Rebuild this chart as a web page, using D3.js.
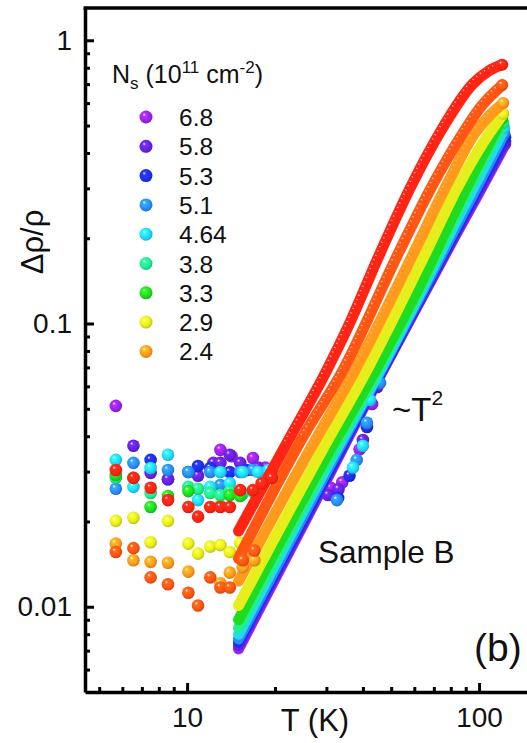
<!DOCTYPE html>
<html>
<head>
<meta charset="utf-8">
<script src="https://cdnjs.cloudflare.com/ajax/libs/d3/7.8.5/d3.min.js"></script>
<style>
body { margin: 0; background: #fff; }
svg { display: block; font-family: "Liberation Sans", Arial, sans-serif; }
</style>
</head>
<body>
<script>
// carrier densities, 1e11 cm^-2 (last two curves have no legend entry)
const labels = ["6.8", "5.8", "5.3", "5.1", "4.64", "3.8", "3.3", "2.9", "2.4", "", ""];
const colors = ["#9b22f0", "#6422e4", "#1e2ef0", "#2a8cf6", "#22d8fb", "#22ee8c",
                "#20dc20", "#e6ee1c", "#ff9a1c", "#ff5614", "#ff2414"];

// sparse low-T points [T (K), drho/rho]
const lowT = [
  [[5.7,0.0512],[8.6,0.0282],[13.0,0.0358],[14.2,0.034],[16.8,0.0335],[18.5,0.031],[31,0.0263],[34,0.0275],[39,0.036],[43,0.052]],
  [[6.55,0.037],[7.5,0.0297],[8.6,0.0282],[10.9,0.029],[12.3,0.0322],[13.0,0.0322],[14.0,0.0344],[15.2,0.0322],[17.5,0.031],[30.4,0.0248],[33,0.026],[40,0.0388],[44.8,0.0597]],
  [[7.5,0.033],[10.1,0.0299],[10.9,0.0314],[12.0,0.0309],[14.0,0.0299],[16.0,0.0304],[19.5,0.0299],[32.9,0.0242],[36,0.029],[41.3,0.0431]],
  [[5.7,0.0261],[6.55,0.0322],[8.6,0.0304],[10.1,0.0299],[12.0,0.0299],[13.0,0.0269],[15.2,0.0299],[16.8,0.0304],[18.5,0.0299],[32.6,0.0238],[38.1,0.033],[41.3,0.0446],[45.8,0.0617]],
  [[5.7,0.033],[6.55,0.0265],[7.5,0.0309],[8.6,0.0344],[10.9,0.0238],[12.0,0.0265],[13.0,0.0299],[14.0,0.0273],[15.5,0.0299],[17.5,0.0299],[19,0.0304],[37,0.031],[40,0.037],[42.3,0.0537]],
  [[5.7,0.0285],[7.5,0.0252],[10.1,0.0265],[10.9,0.0261],[12.0,0.0252],[13.0,0.0248],[14.0,0.0256],[15.5,0.025],[17,0.0252]],
  [[5.7,0.0292],[6.55,0.0285],[7.5,0.0225],[8.6,0.0246],[10.1,0.0256],[13.0,0.0227],[14.0,0.0248],[15.2,0.0246]],
  [[5.7,0.0201],[6.55,0.0206],[7.5,0.0169],[8.6,0.0201],[10.1,0.0167],[10.9,0.0154],[12.0,0.0163],[13.0,0.0165],[14.0,0.0156],[15.2,0.0168],[16.5,0.0163]],
  [[5.7,0.0167],[6.55,0.0146],[7.5,0.0144],[8.6,0.0143],[10.1,0.0133],[13.0,0.0121],[14.0,0.0132],[15.5,0.0138],[17,0.0146]],
  [[5.7,0.0156],[6.55,0.0161],[7.5,0.0127],[8.6,0.012],[10.1,0.0112],[10.9,0.0101],[12.0,0.0127],[13.0,0.0117],[14.0,0.0117],[15.5,0.0146],[17,0.0158]],
  [[5.7,0.0304],[6.55,0.0285],[7.5,0.0263],[8.6,0.0238],[10.1,0.0225],[10.9,0.0208],[12.0,0.0225],[13.0,0.0225],[14.0,0.0225],[15.2,0.0258],[16.8,0.0258],[18,0.0273],[19.5,0.0285]]
];

// dense high-T data, drawn as a thick band [T (K), drho/rho]
const dense = [
  [[15,0.0071],[30,0.028],[46,0.066],[63,0.121],[82,0.20],[100,0.29],[123,0.43]],
  [[15,0.0073],[30,0.0285],[46,0.0665],[63,0.122],[82,0.203],[100,0.297],[123,0.44]],
  [[15,0.0075],[30,0.029],[46,0.067],[63,0.124],[82,0.207],[100,0.305],[123,0.455]],
  [[15,0.0077],[30,0.030],[46,0.068],[63,0.126],[82,0.213],[100,0.315],[122,0.47]],
  [[15,0.0080],[30,0.031],[46,0.069],[63,0.129],[82,0.222],[100,0.33],[122,0.49]],
  [[15,0.0084],[30,0.032],[46,0.071],[63,0.133],[82,0.232],[100,0.35],[121,0.51]],
  [[15,0.0090],[30,0.034],[46,0.074],[63,0.138],[82,0.245],[100,0.37],[120,0.53]],
  [[15,0.0101],[30,0.038],[41.3,0.0685],[66.4,0.182],[84,0.30],[104,0.44],[121,0.55]],
  [[15,0.0123],[26,0.035],[37.6,0.0685],[60.4,0.182],[77.7,0.31],[96.8,0.47],[110,0.55],[121,0.60]],
  [[15,0.0148],[25,0.040],[34.2,0.0685],[53.6,0.182],[69.5,0.31],[88,0.47],[101,0.58],[120,0.695]],
  [[15,0.0185],[22,0.038],[30,0.068],[36,0.10],[45,0.17],[58,0.30],[75,0.49],[95,0.70],[108,0.78],[120,0.82]]
];

const xMajor = [10, 100];
const xMinor = [5, 6, 7, 8, 9, 20, 30, 40, 50, 60, 70, 80, 90];
const yMajor = [0.01, 0.1, 1];
const yMinor = [0.006, 0.007, 0.008, 0.009, 0.02, 0.03, 0.04, 0.05, 0.06, 0.07, 0.08, 0.09,
                0.2, 0.3, 0.4, 0.5, 0.6, 0.7, 0.8, 0.9];

const W = 527, H = 743;
const svg = d3.select("body").append("svg").attr("width", W).attr("height", H);

const x = d3.scaleLog().domain([4.47, 150]).range([85, 530.5]);
const y = d3.scaleLog().domain([0.005, 1.3]).range([692, 8]);

// sphere shading
const defs = svg.append("defs");
colors.forEach((c, i) => {
  const g = defs.append("radialGradient").attr("id", "ball" + i)
    .attr("cx", "0.45").attr("cy", "0.45").attr("r", "0.6")
    .attr("fx", "0.35").attr("fy", "0.3");
  g.append("stop").attr("offset", "0%").attr("stop-color", "#fff");
  g.append("stop").attr("offset", "22%").attr("stop-color", d3.color(c).brighter(0.6));
  g.append("stop").attr("offset", "65%").attr("stop-color", c);
  g.append("stop").attr("offset", "100%").attr("stop-color", d3.color(c).darker(0.7));
});

const line = d3.line().x(d => x(d[0])).y(d => y(d[1])).curve(d3.curveMonotoneX);

const plot = svg.append("g");
dense.forEach((pts, i) => {
  const g = plot.append("g");
  g.append("path").attr("d", line(pts))
    .attr("fill", "none").attr("stroke", colors[i])
    .attr("stroke-width", 11).attr("stroke-linecap", "round");
  if (i >= 8) {
    g.append("path").attr("d", line(pts.filter(d => d[0] >= 20)))
      .attr("fill", "none").attr("stroke", "#fff")
      .attr("stroke-width", 1.8).attr("stroke-dasharray", "1.2 3.6")
      .attr("opacity", i === 8 ? 0.3 : 0.6)
      .attr("transform", "translate(-2.5,-1.5)");
  }
  const last = pts[pts.length - 1];
  g.append("circle").attr("cx", x(last[0])).attr("cy", y(last[1])).attr("r", 6)
    .attr("fill", "url(#ball" + i + ")");
  g.selectAll("circle.pt").data(lowT[i]).join("circle").attr("class", "pt")
    .attr("cx", d => x(d[0])).attr("cy", d => y(d[1])).attr("r", 6.3)
    .attr("fill", "url(#ball" + i + ")");
});

// axes, ticks inside
const fs = 28;
svg.append("g").attr("transform", "translate(0,692)")
  .call(d3.axisBottom(x).tickValues(xMajor).tickSize(-9).tickSizeOuter(0)
    .tickPadding(15).tickFormat(d3.format("d")));
svg.append("g").attr("transform", "translate(0,692)")
  .call(d3.axisBottom(x).tickValues(xMinor).tickSize(-5).tickSizeOuter(0).tickFormat(""))
  .select(".domain").remove();
svg.append("g").attr("transform", "translate(85,0)")
  .call(d3.axisLeft(y).tickValues(yMajor).tickSize(-9).tickSizeOuter(0)
    .tickPadding(13).tickFormat(d => d === 1 ? "1" : d3.format("")(d)));
svg.append("g").attr("transform", "translate(85,0)")
  .call(d3.axisLeft(y).tickValues(yMinor).tickSize(-5).tickSizeOuter(0).tickFormat(""))
  .select(".domain").remove();
svg.selectAll(".tick line").attr("stroke", "#000").attr("stroke-width", 3);
svg.selectAll(".domain").attr("stroke", "#000").attr("stroke-width", 3.5);
svg.selectAll(".tick text").attr("font-size", fs).attr("fill", "#111")
  .attr("font-family", "Liberation Sans, Arial, sans-serif");
svg.append("line").attr("x1", 83.5).attr("x2", W).attr("y1", 8).attr("y2", 8)
  .attr("stroke", "#000").attr("stroke-width", 3.5);

// axis titles
svg.append("text").attr("x", 315).attr("y", 731).attr("text-anchor", "middle")
  .attr("font-size", 31).attr("fill", "#111").text("T (K)");
svg.append("text").attr("transform", "translate(43,242) rotate(-90)")
  .attr("text-anchor", "middle").attr("font-size", 31).attr("fill", "#111").text("Δρ/ρ");

// legend
const lg = svg.append("g");
const lt = lg.append("text").attr("x", 112).attr("y", 83).attr("font-size", 25).attr("fill", "#111");
lt.append("tspan").text("N");
lt.append("tspan").attr("font-size", 17).attr("dy", 6).text("s");
lt.append("tspan").attr("dy", -6).text(" (10");
lt.append("tspan").attr("font-size", 17).attr("dy", -10).text("11");
lt.append("tspan").attr("dy", 10).text(" cm");
lt.append("tspan").attr("font-size", 17).attr("dy", -10).text("-2");
lt.append("tspan").attr("dy", 10).text(")");
labels.forEach((l, i) => {
  if (!l) return;
  const yy = 117 + i * 29.3;
  lg.append("circle").attr("cx", 146).attr("cy", yy).attr("r", 6.5).attr("fill", "url(#ball" + i + ")");
  lg.append("text").attr("x", 179).attr("y", yy + 9).attr("font-size", 24.5).attr("fill", "#111").text(l);
});

// annotations
const t2 = svg.append("text").attr("x", 392).attr("y", 421).attr("font-size", 33).attr("fill", "#111");
t2.append("tspan").text("~T");
t2.append("tspan").attr("font-size", 21).attr("dy", -16).text("2");
svg.append("text").attr("x", 318).attr("y", 563).attr("font-size", 31.5).attr("fill", "#111").text("Sample B");
svg.append("text").attr("x", 474).attr("y", 661).attr("font-size", 39).attr("fill", "#111").text("(b)");
</script>
</body>
</html>
